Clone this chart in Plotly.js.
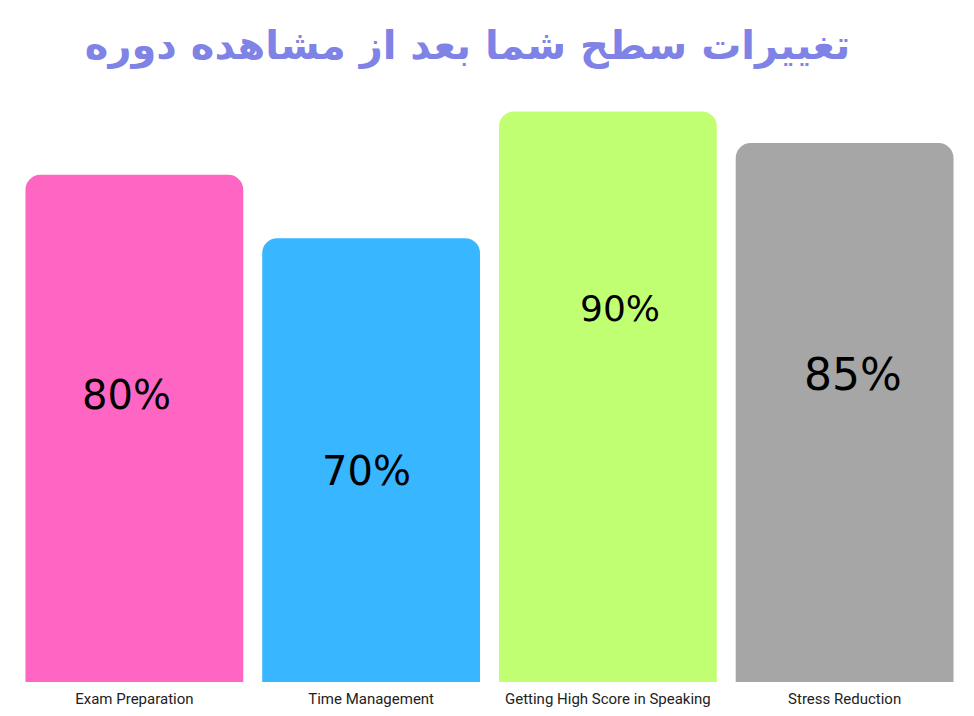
<!DOCTYPE html>
<html>
<head>
<meta charset="utf-8">
<script src="https://cdn.plot.ly/plotly-3.0.1.min.js"></script>
<style>
  html, body { margin: 0; padding: 0; background: #fff; }
  #chart { width: 974px; height: 716px; }
</style>
</head>
<body>
<div id="chart"></div>
<script>
var categories = ["Exam Preparation", "Time Management", "Getting High Score in Speaking", "Stress Reduction"];
var values = [80, 70, 90, 85];
var valueLabels = ["80%", "70%", "90%", "85%"];
var barColors = ["#ff66c4", "#38b6ff", "#c1ff72", "#a6a6a6"];

// label placement inside each bar (fraction of bar height, x shift in category units, font size)
var labelFrac = [0.565, 0.475, 0.655, 0.57];
var labelShift = [-0.035, -0.02, 0.05, 0.035];
var labelSize = [40, 40, 36, 44];

var annotations = [];
for (var i = 0; i < categories.length; i++) {
    annotations.push({
        x: i + labelShift[i],
        y: values[i] * labelFrac[i],
        xref: "x",
        yref: "y",
        text: valueLabels[i],
        showarrow: false,
        font: { family: "DejaVu Sans, sans-serif", size: labelSize[i], color: "#000" }
    });
}

Plotly.newPlot("chart", [{
    type: "bar",
    x: [0, 1, 2, 3],
    y: values,
    marker: { color: barColors, line: { width: 0 } },
    hoverinfo: "none"
}], {
    width: 974,
    height: 716,
    margin: { l: 15.5, r: 10.5, t: 48, b: 34 },
    paper_bgcolor: "#fff",
    plot_bgcolor: "#fff",
    bargap: 0.08,
    barcornerradius: 15,
    showlegend: false,
    title: {
        text: "تغییرات سطح شما بعد از مشاهده دوره",
        font: { family: "DejaVu Sans, sans-serif", size: 40, color: "#7f83e6", weight: "bold" },
        x: 0.48,
        xanchor: "center",
        y: 0.937,
        yanchor: "middle"
    },
    xaxis: {
        tickmode: "array",
        tickvals: [0, 1, 2, 3],
        ticktext: categories,
        range: [-0.5, 3.5],
        showgrid: false,
        zeroline: false,
        showline: false,
        ticks: "outside",
        ticklen: 3,
        tickcolor: "rgba(0,0,0,0)",
        tickfont: { family: "Roboto, sans-serif", size: 15, color: "#222" }
    },
    yaxis: {
        range: [0, 100],
        visible: false,
        fixedrange: true
    },
    annotations: annotations
}, { displayModeBar: false, staticPlot: true });
</script>
</body>
</html>
